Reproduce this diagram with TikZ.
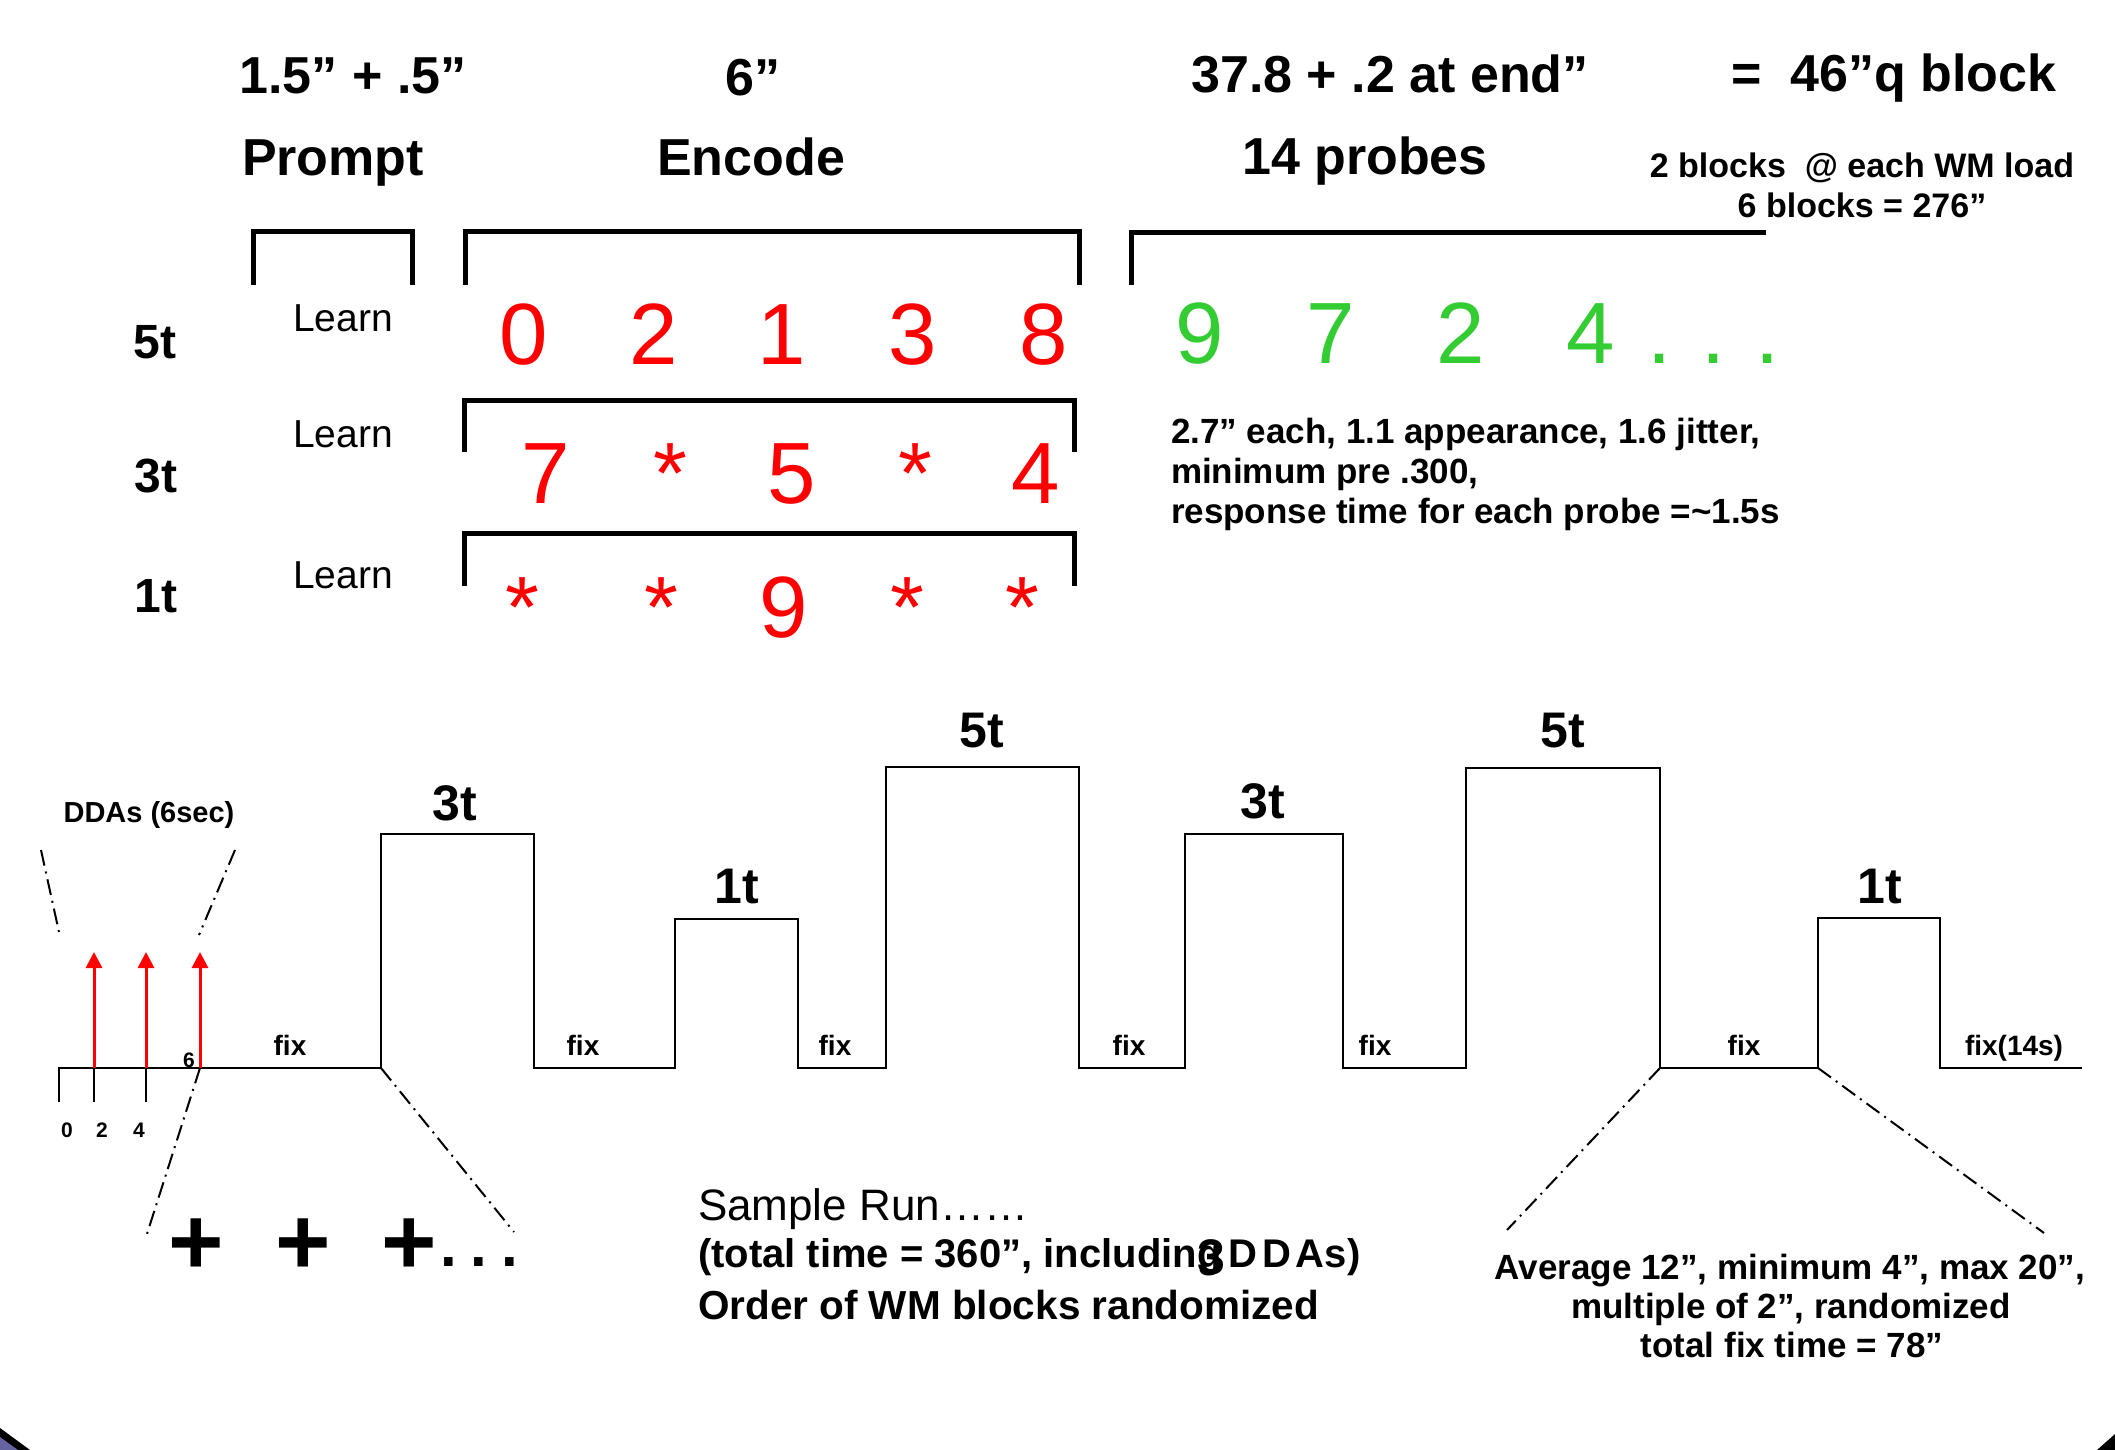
\documentclass[tikz,border=0pt]{standalone}
\usepackage{fontspec}
\setmainfont{Liberation Sans}
\usetikzlibrary{arrows.meta}
\definecolor{digitred}{RGB}{255,0,0}
\definecolor{probegreen}{RGB}{51,204,51}
\definecolor{cornerblue}{RGB}{100,100,160}
\newcommand{\setfs}[1]{\fontsize{#1}{#1}\selectfont}

\tikzset{
  every node/.style={inner sep=0pt, outer sep=0pt, anchor=base},
  heading/.style={font={\setfs{52}\bfseries}},
  rowlab/.style={font={\setfs{48}\bfseries}},
  learnlab/.style={font={\setfs{39}}},
  encdigit/.style={font={\setfs{87}}, text=digitred},
  probedigit/.style={font={\setfs{87}}, text=probegreen},
  notetext/.style={font={\setfs{35}\bfseries}, anchor=base west},
  loadtext/.style={font={\setfs{34}\bfseries}},
  blocklab/.style={font={\setfs{50}\bfseries}},
  fixlab/.style={font={\setfs{28}\bfseries}},
  ticklab/.style={font={\setfs{21}\bfseries}},
  crosslab/.style={font={\setfs{95}\bfseries}},
  bracketline/.style={line width=5pt, line join=miter, line cap=rect},
  trace/.style={line width=2pt, line join=miter},
  zoomline/.style={line width=2pt, dash pattern=on 16pt off 6pt on 2pt off 6pt},
  ddaarrow/.style={draw=digitred, line width=3pt, -{Triangle[length=16pt,width=16pt]}}
}

\begin{document}
\begin{tikzpicture}[x=1pt,y=-1pt]
\useasboundingbox (0,0) rectangle (2115,1450);
\fill[white] (0,0) rectangle (2115,1450);

% ---------- block structure headings ----------
\node[heading] (dPrompt) at (353,94) {1.5” + .5”};
\node[heading] (dEncode) at (753,96) {6”};
\node[heading] (dProbes) at (1390,93) {37.8 + .2 at end”};
\node[heading, anchor=base west] (dTotal) at (1731,92) {=\ \ 46”q block};
\node[heading] (hPrompt) at (333,176) {Prompt};
\node[heading] (hEncode) at (751,176) {Encode};
\node[heading] (hProbes) at (1365,175) {14 probes};
\node[loadtext] (load1) at (1862,178) {2 blocks \ @ each WM load};
\node[loadtext] (load2) at (1862,218) {6 blocks = 276”};

% ---------- brackets ----------
\draw[bracketline] (253,282) -- (253,232) -- (412,232) -- (412,282);
\draw[bracketline] (465,282) -- (465,232) -- (1079,232) -- (1079,282);
\draw[bracketline] (1131,282) -- (1131,233) -- (1763,233);
\draw[bracketline] (464,449) -- (464,400) -- (1074,400) -- (1074,449);
\draw[bracketline] (464,583) -- (464,533) -- (1074,533) -- (1074,583);

% ---------- load rows ----------
\node[rowlab] (r5) at (155,358) {5t};
\node[rowlab] (r3) at (156,492) {3t};
\node[rowlab] (r1) at (156,612) {1t};
\node[learnlab] (l5) at (343,331) {Learn};
\node[learnlab] (l3) at (343,447) {Learn};
\node[learnlab] (l1) at (343,588) {Learn};

% 5t encode digits
\node[encdigit] (e51) at (524,364) {0};
\node[encdigit] (e52) at (654,364) {2};
\node[encdigit] (e53) at (782,364) {1};
\node[encdigit] (e54) at (913,364) {3};
\node[encdigit] (e55) at (1044,364) {8};
% probes
\node[probedigit] (p1) at (1200,363) {9};
\node[probedigit] (p2) at (1331,363) {7};
\node[probedigit] (p3) at (1461,363) {2};
\node[probedigit] (p4) at (1591,363) {4};
\node[probedigit, anchor=base west] (pdots) at (1647,363) {.\hspace{30pt}.\hspace{30pt}.};

% 3t encode digits
\node[encdigit] (e31) at (546,503) {7};
\node[encdigit] (e32) at (670,503) {*};
\node[encdigit] (e33) at (792,503) {5};
\node[encdigit] (e34) at (915,503) {*};
\node[encdigit] (e35) at (1036,503) {4};

% 1t encode digits
\node[encdigit] (e11) at (522,637) {*};
\node[encdigit] (e12) at (661,637) {*};
\node[encdigit] (e13) at (784,637) {9};
\node[encdigit] (e14) at (907,637) {*};
\node[encdigit] (e15) at (1022,637) {*};

% probe timing notes
\node[notetext] (n1) at (1171,443) {2.7” each, 1.1 appearance, 1.6 jitter,};
\node[notetext] (n2) at (1171,483) {minimum pre .300,};
\node[notetext] (n3) at (1171,523) {response time for each probe =\textasciitilde 1.5s};

% ---------- sample run timeline ----------
\coordinate (t0) at (59,1068);
\coordinate (t0low) at (59,1102);
\coordinate (fixAend) at (381,1068);
\coordinate (fixFstart) at (1660,1068);
\coordinate (fixFend) at (1818,1068);
\draw[trace] (t0low) -- (t0) -- (381,1068) -- (381,834) -- (534,834) -- (534,1068)
  -- (675,1068) -- (675,919) -- (798,919) -- (798,1068)
  -- (886,1068) -- (886,767) -- (1079,767) -- (1079,1068)
  -- (1185,1068) -- (1185,834) -- (1343,834) -- (1343,1068)
  -- (1466,1068) -- (1466,768) -- (1660,768) -- (1660,1068)
  -- (1818,1068) -- (1818,918) -- (1940,918) -- (1940,1068) -- (2082,1068);

% DDA ticks and arrows
\coordinate (d2) at (94,1068);
\coordinate (d4) at (146,1068);
\coordinate (d6) at (200,1068);
\draw[trace] (d2) -- (94,1102);
\draw[trace] (d4) -- (146,1102);
\draw[ddaarrow] (d2) -- (94,952);
\draw[ddaarrow] (d4) -- (146,952);
\draw[ddaarrow] (d6) -- (200,952);
\node[ticklab] (k0) at (67,1137) {0};
\node[ticklab] (k2) at (102,1137) {2};
\node[ticklab] (k4) at (139,1137) {4};
\node[ticklab] (k6) at (189,1067) {6};
\node[font={\setfs{29}\bfseries}] (dda) at (149,822) {DDAs (6sec)};

% zoom guides
\draw[zoomline] (41,850) -- (59,932);
\draw[zoomline] (235,850) -- (199,935);
\draw[zoomline] (d6) -- (146,1237);
\draw[zoomline] (fixAend) -- (514,1232);
\draw[zoomline] (fixFstart) -- (1507,1230);
\draw[zoomline] (fixFend) -- (2044,1233);

% block labels
\node[blocklab] (b1) at (455,820) {3t};
\node[blocklab] (b2) at (737,903) {1t};
\node[blocklab] (b3) at (982,747) {5t};
\node[blocklab] (b4) at (1263,818) {3t};
\node[blocklab] (b5) at (1563,747) {5t};
\node[blocklab] (b6) at (1880,903) {1t};

% fixation labels
\node[fixlab] (x1) at (290,1055) {fix};
\node[fixlab] (x2) at (583,1055) {fix};
\node[fixlab] (x3) at (835,1055) {fix};
\node[fixlab] (x4) at (1129,1055) {fix};
\node[fixlab] (x5) at (1375,1055) {fix};
\node[fixlab] (x6) at (1744,1055) {fix};
\node[fixlab] (x7) at (2014,1055) {fix(14s)};

% fixation crosses
\node[crosslab] (c1) at (196,1274) {+};
\node[crosslab] (c2) at (303,1274) {+};
\node[crosslab] (c3) at (409,1274) {+};
\node[font={\setfs{60}\bfseries}, anchor=base west] (cdots) at (440,1266) {.\hspace{14pt}.\hspace{14pt}.};

% sample run text
\node[font={\setfs{44}}, anchor=base west] (s1) at (698,1220) {Sample Run……};
\node[font={\setfs{40}\bfseries}, anchor=base west] (s2) at (698,1267)
  {(total time = 360”, including\kern-0.6em\raisebox{-7pt}{\setfs{50}3}\kern3pt D\kern5pt D\kern5pt As)};
\node[font={\setfs{40.5}\bfseries}, anchor=base west] (s3) at (698,1319) {Order of WM blocks randomized};

% fixation timing text
\node[font={\setfs{35}\bfseries}] (f1) at (1790,1279) {Average 12”, minimum 4”, max 20”,};
\node[font={\setfs{35}\bfseries}] (f2) at (1791,1318) {multiple of 2”, randomized};
\node[font={\setfs{35}\bfseries}] (f3) at (1792,1357) {total fix time = 78”};

% slide frame corners
\fill[black] (0,1428) -- (30,1450) -- (0,1450) -- cycle;
\fill[cornerblue] (0,1437) -- (18,1450) -- (0,1450) -- cycle;
\fill[black] (2115,1434) -- (2097,1450) -- (2115,1450) -- cycle;
\end{tikzpicture}
\end{document}
